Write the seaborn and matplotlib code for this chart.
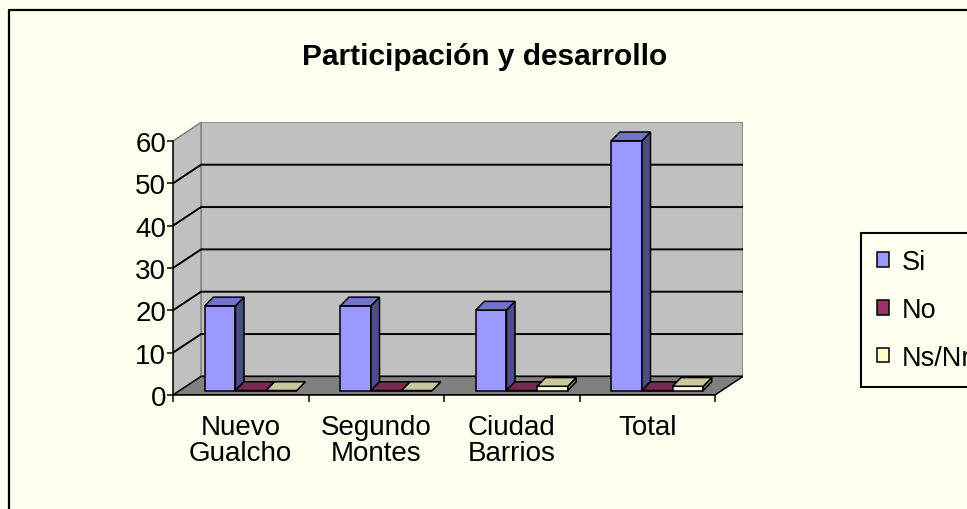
import matplotlib
matplotlib.use("Agg")
import matplotlib.pyplot as plt
from matplotlib.patches import Polygon, Patch
from matplotlib.lines import Line2D
import seaborn as sns
import pandas as pd

# datos del grafico
categorias = ["Nuevo\nGualcho", "Segundo\nMontes", "Ciudad\nBarrios", "Total"]
series = ["Si", "No", "Ns/Nr"]
si = [20, 20, 19, 59]
no = [0, 0, 0, 0]
nsnr = [0, 0, 1, 1]
yticks = [0, 10, 20, 30, 40, 50, 60]

# colores estilo excel
frente = ["#9999FF", "#993366", "#FFFFCC"]
lado = ["#4D4D85", "#4D1A33", "#80806A"]
tapa = ["#7474C6", "#7A2951", "#C8C89C"]
fondo = "#FFFFF0"
pared = "#C0C0C0"
piso = "#808080"

# profundidad 3d (en unidades de datos)
DX, DY = 0.207, 4.4      # paredes
BX, BY = 0.074, 1.06     # desplazamiento de la cara frontal de las barras
DBX, DBY = 0.063, 2.06   # profundidad de cada barra
LW = 1.1

df = pd.DataFrame({
    "cat": categorias * 3,
    "serie": [s for s in series for _ in categorias],
    "val": si + no + nsnr,
})

sns.set_style("white")
plt.rcParams["font.family"] = ["Liberation Sans", "DejaVu Sans"]
plt.rcParams["text.color"] = "black"
plt.rcParams["xtick.color"] = "black"
plt.rcParams["ytick.color"] = "black"
plt.rcParams["xtick.labelcolor"] = "black"
plt.rcParams["ytick.labelcolor"] = "black"

W, H = 967, 510
fig = plt.figure(figsize=(W / 100, H / 100), dpi=100, facecolor=fondo)

# eje: x=-0.5 -> 173px, x=3.5 -> 715px ; y=0 -> 396px, y=60 -> 142px
px_cat = (715 - 173) / 4
px_y = (396 - 142) / 60
left = 173 / W
width = (4 + DX) * px_cat / W
bottom = (H - 396) / H
height = (60 + DY) * px_y / H
ax = fig.add_axes([left, bottom, width, height])
ax.set_facecolor("none")

sns.barplot(data=df, x="cat", y="val", hue="serie", order=categorias,
            hue_order=series, palette=frente, saturation=1, width=0.678,
            errorbar=None, bottom=BY, edgecolor="black", linewidth=LW,
            legend=False, ax=ax)

x0, x1 = -0.5, 3.5
# paredes y piso
ax.add_patch(Polygon([(x0 + DX, DY), (x1 + DX, DY), (x1 + DX, 60 + DY), (x0 + DX, 60 + DY)],
                     closed=True, facecolor=pared, edgecolor=piso, lw=LW, zorder=0.5))
ax.add_patch(Polygon([(x0, 0), (x0 + DX, DY), (x0 + DX, 60 + DY), (x0, 60)],
                     closed=True, facecolor=pared, edgecolor=piso, lw=LW, zorder=0.5))
for t in yticks[1:-1]:
    ax.plot([x0, x0 + DX, x1 + DX], [t, t + DY, t + DY], color="black", lw=1.4, zorder=0.6)
ax.add_patch(Polygon([(x0, 0), (x1, 0), (x1 + DX, DY), (x0 + DX, DY)],
                     closed=True, facecolor=piso, edgecolor="black", lw=LW, zorder=0.7))

# caras laterales y superiores de las barras
for i, cont in enumerate(ax.containers):
    for p in cont.patches:
        p.set_x(p.get_x() + BX)
        p.set_zorder(3 + 2 * i)
        bx0 = p.get_x()
        bx1 = bx0 + p.get_width()
        by0 = p.get_y()
        by1 = by0 + p.get_height()
        ax.add_patch(Polygon([(bx1, by0), (bx1 + DBX, by0 + DBY), (bx1 + DBX, by1 + DBY), (bx1, by1)],
                             closed=True, facecolor=lado[i], edgecolor="black", lw=LW,
                             joinstyle="miter", zorder=3 + 2 * i + 1))
        ax.add_patch(Polygon([(bx0, by1), (bx1, by1), (bx1 + DBX, by1 + DBY), (bx0 + DBX, by1 + DBY)],
                             closed=True, facecolor=tapa[i], edgecolor="black", lw=LW,
                             joinstyle="miter", zorder=3 + 2 * i + 1))

ax.set_xlim(x0, x1 + DX)
ax.set_ylim(0, 60 + DY)
ax.set_xlabel("")
ax.set_ylabel("")

for s in ["top", "right"]:
    ax.spines[s].set_visible(False)
for s in ["left", "bottom"]:
    ax.spines[s].set_color("black")
    ax.spines[s].set_linewidth(LW)
    ax.spines[s].set_zorder(1)
ax.spines["left"].set_bounds(0, 60)
ax.spines["bottom"].set_bounds(x0, x1)

ax.set_yticks(yticks)
ax.set_yticklabels([str(t) for t in yticks])
ax.tick_params(axis="y", direction="out", length=4, width=LW, color="black",
               labelsize=20, pad=1, left=True)
ax.set_xticks([x0, 0.5, 1.5, 2.5, x1])
ax.set_xticklabels([])
ax.set_xticks(range(len(categorias)), minor=True)
ax.set_xticklabels(categorias, minor=True)
ax.tick_params(axis="x", which="major", direction="out", length=5, width=LW,
               color="black", bottom=True)
ax.tick_params(axis="x", which="minor", length=0, labelsize=20, pad=14)
for lab in ax.get_xticklabels(minor=True):
    lab.set_linespacing(1.0)

fig.text(485 / W, 1 - 57 / H, "Participación y desarrollo", ha="center", va="center",
         fontsize=21.5, fontweight="bold")

# leyenda
handles = [Patch(facecolor=c, edgecolor="black", lw=LW) for c in frente]
leg = fig.legend(handles, series, loc="upper left", bbox_to_anchor=(861 / W, 1 - 234 / H),
                 frameon=True, fancybox=False, edgecolor="black", facecolor=fondo,
                 framealpha=1, fontsize=19.5, handlelength=0.45, handleheight=0.45,
                 handletextpad=0.45, labelspacing=0.8, borderpad=0.6, borderaxespad=0)
leg.get_frame().set_linewidth(1.5)

# borde del area del grafico
fig.add_artist(Line2D([9 / W, 9 / W], [0, 1 - 11 / H], transform=fig.transFigure,
                      color="black", lw=1.6))
fig.add_artist(Line2D([9 / W, 1], [1 - 11 / H, 1 - 11 / H], transform=fig.transFigure,
                      color="black", lw=1.6))

fig.savefig("out.png", dpi=100, facecolor=fondo)
